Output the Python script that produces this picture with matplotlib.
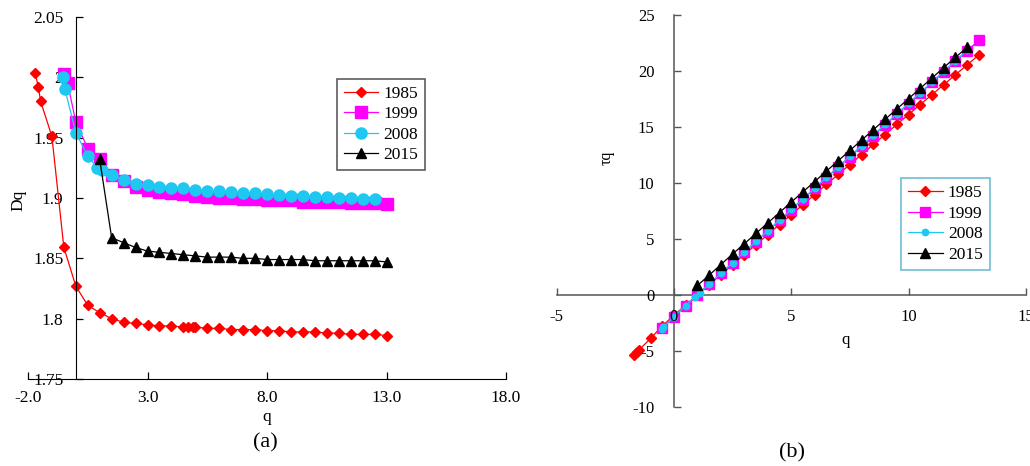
import numpy as np
import matplotlib
matplotlib.use("Agg")
import matplotlib.pyplot as plt

plt.rcParams['font.family'] = ['Liberation Serif', 'DejaVu Serif']
plt.rcParams['axes.unicode_minus'] = False

# ---- panel (a): generalized dimension Dq ----
q_1985 = [-1.7, -1.57, -1.47, -1.0, -0.5, 0.0, 0.5, 1.0, 1.5, 2.0, 2.5, 3.0, 3.5, 4.0,
          4.5, 4.7, 4.9, 5.0, 5.5, 6.0, 6.5, 7.0, 7.5, 8.0, 8.5, 9.0, 9.5, 10.0,
          10.5, 11.0, 11.5, 12.0, 12.5, 13.0]
D_1985 = [2.004, 1.992, 1.980, 1.951, 1.859, 1.827, 1.811, 1.805, 1.800, 1.797, 1.796,
          1.795, 1.794, 1.794, 1.793, 1.793, 1.793, 1.793, 1.792, 1.792, 1.791, 1.791,
          1.791, 1.790, 1.790, 1.789, 1.789, 1.789, 1.788, 1.788, 1.787, 1.787, 1.787,
          1.786]

q_1999 = [-0.48, -0.34, 0.0, 0.5, 1.0, 1.5, 2.0, 2.5, 3.0, 3.5, 4.0, 4.5, 5.0, 5.5, 6.0,
          6.5, 7.0, 7.5, 8.0, 8.5, 9.0, 9.5, 10.0, 10.5, 11.0, 11.5, 12.0, 12.5, 13.0]
D_1999 = [2.003, 1.995, 1.963, 1.941, 1.932, 1.919, 1.914, 1.909, 1.907, 1.905, 1.904,
          1.903, 1.902, 1.901, 1.900, 1.900, 1.899, 1.899, 1.898, 1.898, 1.898, 1.897,
          1.897, 1.897, 1.897, 1.896, 1.896, 1.896, 1.895]

q_2008 = [-0.52, -0.45, 0.0, 0.5, 0.9, 1.1, 1.5, 2.0, 2.5, 3.0, 3.5, 4.0, 4.5, 5.0, 5.5,
          6.0, 6.5, 7.0, 7.5, 8.0, 8.5, 9.0, 9.5, 10.0, 10.5, 11.0, 11.5, 12.0, 12.5]
D_2008 = [2.000, 1.990, 1.954, 1.935, 1.925, 1.923, 1.919, 1.915, 1.912, 1.911, 1.909,
          1.9085, 1.908, 1.907, 1.906, 1.9055, 1.905, 1.9045, 1.904, 1.903, 1.9025, 1.902,
          1.9015, 1.901, 1.9005, 1.900, 1.900, 1.8995, 1.899]

q_2015 = [1.0, 1.5, 2.0, 2.5, 3.0, 3.5, 4.0, 4.5, 5.0, 5.5, 6.0, 6.5, 7.0, 7.5, 8.0, 8.5,
          9.0, 9.5, 10.0, 10.5, 11.0, 11.5, 12.0, 12.5, 13.0]
D_2015 = [1.932, 1.867, 1.863, 1.859, 1.856, 1.855, 1.854, 1.853, 1.852, 1.851, 1.851,
          1.851, 1.850, 1.850, 1.849, 1.849, 1.849, 1.849, 1.848, 1.848, 1.848, 1.848,
          1.848, 1.848, 1.847]

# ---- panel (b): mass exponent tau(q) ----
qb_1985 = [-1.7, -1.57, -1.47, -1.0, -0.5, 0.0, 0.5, 1.0, 1.5, 2.0, 2.5, 3.0, 3.5, 4.0,
           4.5, 5.0, 5.5, 6.0, 6.5, 7.0, 7.5, 8.0, 8.5, 9.0, 9.5, 10.0, 10.5, 11.0,
           11.5, 12.0, 12.5, 13.0]
tau_1985 = [-5.41, -5.12, -4.89, -3.90, -2.79, -1.83, -0.91, 0.0, 0.90, 1.80, 2.69, 3.59,
            4.49, 5.38, 6.28, 7.17, 8.06, 8.96, 9.86, 10.75, 11.64, 12.53, 13.43, 14.32,
            15.22, 16.10, 17.00, 17.88, 18.78, 19.66, 20.55, 21.43]

qb_1999 = [-0.5, 0.0, 0.5, 1.0, 1.5, 2.0, 2.5, 3.0, 3.5, 4.0, 4.5, 5.0, 5.5, 6.0, 6.5,
           7.0, 7.5, 8.0, 8.5, 9.0, 9.5, 10.0, 10.5, 11.0, 11.5, 12.0, 12.5, 13.0]
tau_1999 = [-3.01, -1.96, -0.97, 0.0, 0.96, 1.91, 2.86, 3.81, 4.76, 5.71, 6.66, 7.61,
            8.55, 9.50, 10.45, 11.39, 12.34, 13.29, 14.23, 15.18, 16.12, 17.07, 18.02,
            18.97, 19.91, 20.86, 21.80, 22.74]

qb_2008 = [-0.52, -0.45, 0.0, 0.5, 0.9, 1.1, 1.5, 2.0, 2.5, 3.0, 3.5, 4.0, 4.5, 5.0, 5.5,
           6.0, 6.5, 7.0, 7.5, 8.0, 8.5, 9.0, 9.5, 10.0, 10.5, 11.0, 11.5, 12.0, 12.5]
tau_2008 = [-3.04, -2.89, -1.95, -0.97, -0.19, 0.19, 0.96, 1.92, 2.87, 3.82, 4.77, 5.73,
            6.68, 7.63, 8.58, 9.53, 10.48, 11.43, 12.38, 13.32, 14.27, 15.22, 16.17,
            17.11, 18.06, 19.01, 19.96, 20.91, 21.85]

qb_2015 = [1.0, 1.5, 2.0, 2.5, 3.0, 3.5, 4.0, 4.5, 5.0, 5.5, 6.0, 6.5, 7.0, 7.5, 8.0, 8.5,
           9.0, 9.5, 10.0, 10.5, 11.0, 11.5, 12.0, 12.5]
tau_2015 = [0.83, 1.75, 2.70, 3.65, 4.56, 5.49, 6.42, 7.35, 8.28, 9.20, 10.12, 11.05,
            11.97, 12.90, 13.82, 14.75, 15.67, 16.60, 17.52, 18.45, 19.37, 20.30, 21.22,
            22.10]

years = ['1985', '1999', '2008', '2015']
colors = ['#ff0000', '#ff00ff', '#1ec8f0', '#000000']

fig = plt.figure(figsize=(10.3, 4.66), dpi=100)

# left panel
ax1 = fig.add_axes([28 / 1030, 1 - 379 / 466, 478 / 1030, 362 / 466])
series_a = [(q_1985, D_1985), (q_1999, D_1999), (q_2008, D_2008), (q_2015, D_2015)]
styles_a = [('D', 5.2), ('s', 8.2), ('o', 8.0), ('^', 7.4)]
for (x, y), (m, ms), c, lab in zip(series_a, styles_a, colors, years):
    ax1.plot(x, y, color=c, marker=m, markersize=ms, lw=0.9, mec=c, mfc=c, label=lab)

ax1.set_xlim(-2, 18)
ax1.set_ylim(1.75, 2.05)
ax1.spines['left'].set_position(('data', 0))
ax1.spines['top'].set_visible(False)
ax1.spines['right'].set_visible(False)
ax1.set_xticks([-2, 3, 8, 13, 18])
ax1.set_xticklabels(['-2.0', '3.0', '8.0', '13.0', '18.0'])
ax1.set_yticks([1.75, 1.8, 1.85, 1.9, 1.95, 2.0, 2.05])
ax1.set_yticklabels(['1.75', '1.8', '1.85', '1.9', '1.95', '2', '2.05'])
ax1.tick_params(direction='in', length=5, labelsize=12.5, width=0.9)
ax1.tick_params(axis='x', pad=8)
ax1.tick_params(axis='y', pad=9)
ax1.text(-0.021, 0.494, 'Dq', transform=ax1.transAxes, rotation=90,
         ha='center', va='center', fontsize=12.5)
ax1.text(0.5, -0.105, 'q', transform=ax1.transAxes, ha='center', va='center',
         fontsize=12.5)
leg1 = ax1.legend(loc='upper left', bbox_to_anchor=(0.646, 0.829), borderaxespad=0,
                  fontsize=12.5, frameon=True, fancybox=False, handlelength=2.0,
                  handletextpad=0.3, labelspacing=0.25, borderpad=0.4)
leg1.get_frame().set_edgecolor('#333333')
leg1.get_frame().set_linewidth(1.2)

# right panel
ax2 = fig.add_axes([556.7 / 1030, 1 - 406.7 / 466, 469.1 / 1030, 391.7 / 466])
series_b = [(qb_1985, tau_1985), (qb_1999, tau_1999), (qb_2008, tau_2008),
            (qb_2015, tau_2015)]
styles_b = [('D', 4.8), ('s', 6.8), ('o', 4.6), ('^', 7.0)]
for (x, y), (m, ms), c, lab in zip(series_b, styles_b, colors, years):
    ax2.plot(x, y, color=c, marker=m, markersize=ms, lw=0.9, mec=c, mfc=c, label=lab)

ax2.set_xlim(-5, 15)
ax2.set_ylim(-10, 25)
ax2.set_axisbelow(False)
ax2.spines['left'].set_position(('data', 0))
ax2.spines['bottom'].set_position(('data', 0))
ax2.spines['top'].set_visible(False)
ax2.spines['right'].set_visible(False)
for s in ['left', 'bottom']:
    ax2.spines[s].set_color('#555555')
    ax2.spines[s].set_linewidth(1.1)
    ax2.spines[s].set_zorder(1.5)
ax2.set_xticks([-5, 0, 5, 10, 15])
ax2.set_yticks([-10, -5, 0, 5, 10, 15, 20, 25])
ax2.tick_params(direction='in', length=5, labelsize=12, width=1.0, color='#555555')
ax2.tick_params(axis='x', pad=10)
ax2.tick_params(axis='y', pad=14)
ax2.text(0.107, 0.635, 'τq', transform=ax2.transAxes, rotation=90,
         ha='center', va='center', fontsize=11.5)
ax2.text(0.615, 0.170, 'q', transform=ax2.transAxes, ha='center', va='center',
         fontsize=12)
leg2 = ax2.legend(loc='upper left', bbox_to_anchor=(0.734, 0.583), borderaxespad=0,
                  fontsize=12.5, frameon=True, fancybox=False, handlelength=2.0,
                  handletextpad=0.3, labelspacing=0.25, borderpad=0.4)
leg2.get_frame().set_edgecolor('#4bacc6')
leg2.get_frame().set_linewidth(1.2)

fig.text(265 / 1030, 1 - 443 / 466, '(a)', ha='center', va='center', fontsize=16)
fig.text(792 / 1030, 1 - 453 / 466, '(b)', ha='center', va='center', fontsize=16)

fig.savefig('out.png', dpi=100)
